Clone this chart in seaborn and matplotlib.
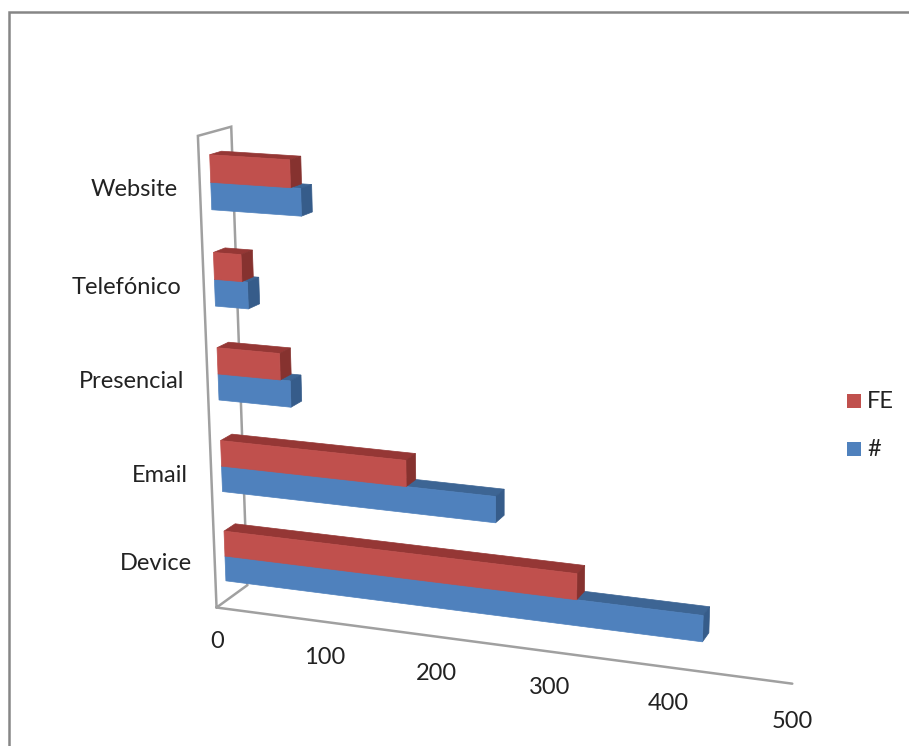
import numpy as np
import pandas as pd
import seaborn as sns
import matplotlib
matplotlib.use("Agg")
import matplotlib.pyplot as plt
from matplotlib.patches import Polygon, Rectangle
from matplotlib.transforms import Transform

# chart values
categories = ["Device", "Email", "Presencial", "Telefónico", "Website"]
series_names = ["#", "FE"]
values_hash = [422, 246, 66, 30, 80]
values_fe = [316, 168, 57, 25, 71]
value_ticks = [0, 100, 200, 300, 400, 500]

# colours per series: front, top, side
colours = {"#": ("#4F81BD", "#3D6594", "#365C8A"), "FE": ("#C0504D", "#953735", "#86322F")}
grey = "#A0A0A0"

sns.set_theme(style="white")
plt.rcParams["font.family"] = ["Lato", "DejaVu Sans"]

W, H = 909, 746
D0, D1 = -0.9, 1.9  # depth of the chart box, the bars run from 0 to 1
C0, C1 = -0.5, 4.5
BAR = 0.56

# camera calibration: (value, category, depth) -> pixel in the picture
anchors = [
    ((0, C0, D0), (217, 607)), ((0, C0, D1), (248, 585)),
    ((0, C1, D0), (198, 136)), ((0, C1, D1), (232, 127)),
    ((100, C0, D0), (325, 621.4)), ((200, C0, D0), (436, 636.3)),
    ((300, C0, D0), (550, 651.5)), ((400, C0, D0), (668, 667.3)),
    ((500, C0, D0), (793, 684)),
    ((0, -0.28, 0), (225, 582)), ((0, 0, 0), (224, 557)), ((0, 0.28, 0), (224, 531)),
    ((0, 3.72, 0), (212, 209.5)), ((0, 4, 0), (211, 183)), ((0, 4.28, 0), (210, 154)),
    ((0, 0.28, 1), (235, 523)), ((0, 4.28, 1), (220, 151)),
]
rows, rhs = [], []
for (v, c, d), (px, py) in anchors:
    rows.append([v, c, d, 1, 0, 0, 0, 0, -px * v, -px * c, -px * d])
    rhs.append(px)
    rows.append([0, 0, 0, 0, v, c, d, 1, -py * v, -py * c, -py * d])
    rhs.append(py)
cam = np.linalg.lstsq(np.array(rows, float), np.array(rhs, float), rcond=None)[0]
cam = np.append(cam, 1).reshape(3, 4)


def project(pts):
    pts = np.atleast_2d(np.asarray(pts, float))
    h = np.column_stack([pts, np.ones(len(pts))]) @ cam.T
    return h[:, :2] / h[:, 2:]


class FrontPlane(Transform):
    """value/category plane of the bars -> picture pixels"""
    input_dims = output_dims = 2

    def transform_non_affine(self, values):
        values = np.asarray(values, float)
        return project(np.column_stack([values, np.zeros(len(values))]))


df = pd.DataFrame({
    "category": categories * 2,
    "series": [series_names[0]] * 5 + [series_names[1]] * 5,
    "value": values_hash + values_fe,
})

fig = plt.figure(figsize=(W / 100, H / 100), dpi=100)
ax = fig.add_axes([0, 0, 1, 1])
sns.barplot(data=df, x="value", y="category", hue="series", order=categories,
            hue_order=series_names, palette={k: v[0] for k, v in colours.items()},
            width=BAR, saturation=1, linewidth=0, orient="h", legend=False, ax=ax, errorbar=None)
ax.set_xlim(0, W)
ax.set_ylim(H, 0)
ax.axis("off")

# bars become faces of boxes, back categories go first
front = FrontPlane() + ax.transData
for name, container in zip(series_names, ax.containers):
    front_col, top_col, side_col = colours[name]
    offset = series_names.index(name)
    for i, bar in enumerate(container):
        y0, y1 = bar.get_y(), bar.get_y() + bar.get_height()
        v = bar.get_width()
        z = 10 + 10 * (len(categories) - i) + offset * 3
        bar.set_transform(front)
        bar.set_clip_on(False)
        bar.set_zorder(z + 2)
        # same colour edge hides the seams between faces
        bar.set_edgecolor(front_col)
        bar.set_linewidth(0.5)
        top = project([(0, y1, 0), (v, y1, 0), (v, y1, 1), (0, y1, 1)])
        side = project([(v, y0, 0), (v, y1, 0), (v, y1, 1), (v, y0, 1)])
        ax.add_patch(Polygon(top, closed=True, fc=top_col, ec=top_col, lw=0.5, zorder=z))
        ax.add_patch(Polygon(side, closed=True, fc=side_col, ec=side_col, lw=0.5, zorder=z + 1))

# walls and floor
wall = project([(0, C0, D0), (0, C1, D0), (0, C1, D1), (0, C0, D1), (0, C0, D0)])
ax.plot(wall[:, 0], wall[:, 1], color=grey, lw=1.8, zorder=2, solid_joinstyle="miter")
floor = project([(0, C0, D0), (value_ticks[-1], C0, D0)])
ax.plot(floor[:, 0], floor[:, 1], color=grey, lw=1.8, zorder=2)

# chart frame
ax.plot([9, 9, W], [H, 12, 12], color="#868686", lw=1.8, zorder=1, solid_joinstyle="miter")

# labels
cat_pos = [(156, 564), (160, 475), (132, 381), (127, 287), (134, 189)]
for label, (x, y) in zip(categories, cat_pos):
    ax.text(x, y, label, ha="center", va="center", fontsize=17, color="#222222")
tick_pos = [(217, 642), (325, 658), (436, 673), (550, 688), (668, 704), (792, 721)]
for t, (x, y) in zip(value_ticks, tick_pos):
    ax.text(x, y, str(t), ha="center", va="center", fontsize=17, color="#222222")

# legend
for name, y in zip(["FE", "#"], [401, 449]):
    ax.add_patch(Rectangle((847, y - 7), 14, 14, fc=colours[name][0], ec="none"))
    ax.text(867, y, name, ha="left", va="center", fontsize=17, color="#222222")

fig.savefig("out.png", dpi=100)
